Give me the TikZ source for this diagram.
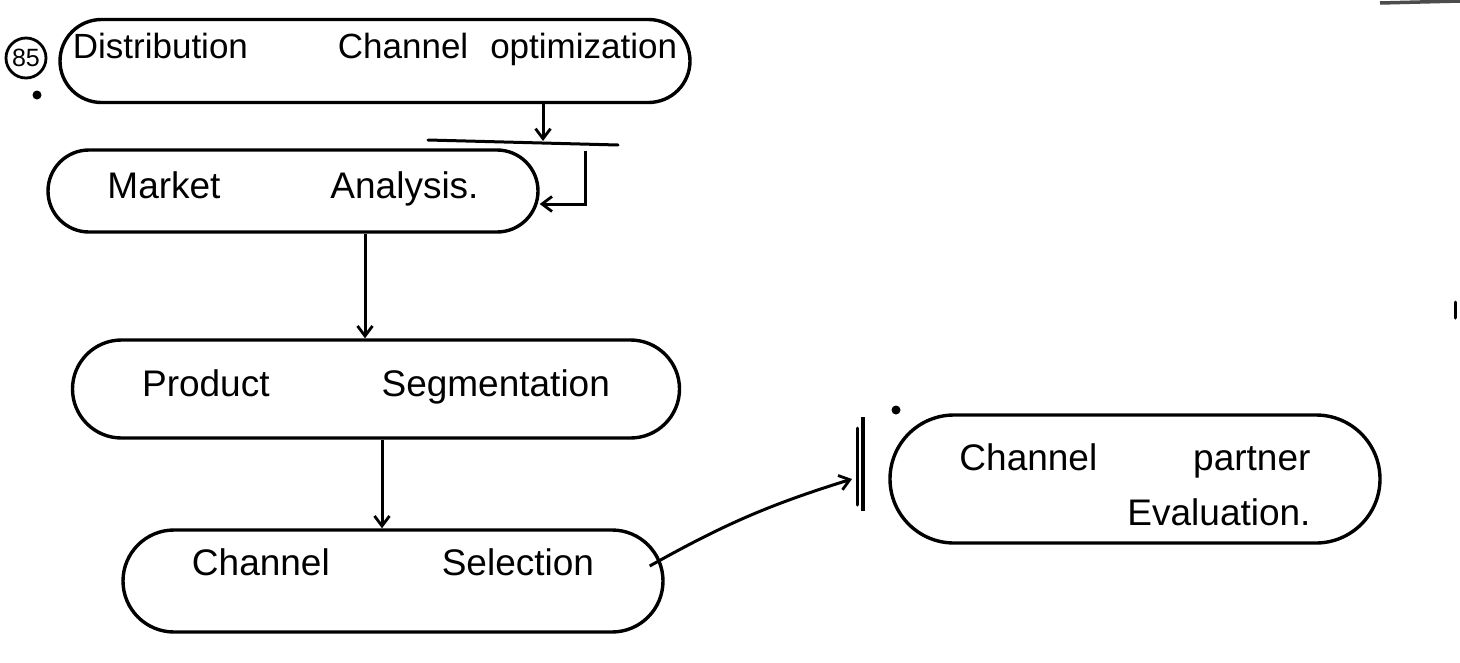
\documentclass[tikz,border=0pt]{standalone}
\usepackage{fontspec}
\setmainfont{Liberation Sans}
\usetikzlibrary{shapes.misc,arrows.meta,calc}
\newcommand\rbx[2]{\raisebox{#1}[0pt][0pt]{#2}}
\begin{document}
\begin{tikzpicture}[x=1pt,y=-1pt,
  box/.style={draw,rounded rectangle,
    line width=3.4pt,inner sep=0pt,
    font=\fontsize{37}{55}\selectfont},
  arr/.style={line width=3pt,-{Straight Barb[length=10pt,width=15pt,line width=2.8pt]}},
  ln/.style={line width=3pt,line cap=round},
  blot/.style={fill=black,inner sep=0pt,minimum size=9pt,circle}]
\useasboundingbox[fill=white] (0,0) rectangle (1460,662);

% question number
\node[draw,circle,line width=2.8pt,inner sep=0pt,minimum size=40pt,
  font=\fontsize{25}{28}\selectfont] (q) at (26,58) {85};
\node[blot] (d1) at (37,95) {};
\node[blot] (d2) at (896,410) {};

% boxes
\node[box,minimum width=630pt,minimum height=83pt,font=\fontsize{35}{40}\selectfont] (n1) at (375,61)
  {\rbx{3pt}{Distribution\hspace{90pt}Channel\hspace{22pt}optimization}};
\node[box,minimum width=490pt,minimum height=82pt] (n2) at (293,191)
  {\rbx{-7pt}{Market\hspace{110pt}Analysis.}};
\node[box,minimum width=607pt,minimum height=98pt] (n3) at (376,389)
  {\rbx{-7pt}{Product\hspace{112pt}Segmentation}};
\node[box,minimum width=540pt,minimum height=102pt] (n4) at (393,581)
  {\rbx{6pt}{Channel\hspace{112pt}Selection}};
\node[box,minimum width=490pt,minimum height=128pt] (n5) at (1135,479)
  {\rbx{9pt}{\begin{tabular}[t]{@{}r@{}}Channel\hspace{96pt}partner\\Evaluation.\end{tabular}}};

% connectors
\coordinate (b1) at (543,141);
\coordinate (bl) at (428,140);
\coordinate (br) at (618,145);
\draw[arr] (b1 |- n1.south) -- (b1);
\draw[ln] (bl) -- (br);
\coordinate (e1) at (585,151);
\coordinate (e2) at (585,204);
\draw[arr] (e1) -- (e2) -- (e2 -| n2.east);

\draw[arr] ([xshift=72pt]n2.south) -- ([xshift=72pt]n2.south |- n3.north);
\draw[arr] ([xshift=6pt]n3.south) -- ([xshift=6pt]n3.south |- n4.north);

\coordinate (sb1) at (863,417);
\coordinate (sb2) at (863,511);
\coordinate (sc1) at (857,428);
\coordinate (sc2) at (857,505);
\coordinate (tb) at (852,479);
\draw[line width=4.5pt] (sb1) -- (sb2);
\draw[ln] (sc1) -- (sc2);
\draw[arr] ([xshift=-15pt,yshift=15pt]n4.east) to[bend left=6] (tb);

% stray pen marks
\coordinate (m1) at (1455,302);
\coordinate (m2) at (1455,318);
\draw[ln] (m1) -- (m2);
\coordinate (t1) at (1380,3);
\coordinate (t2) at (1460,1);
\draw[line width=3.5pt,black!70] (t1) -- (t2);
\end{tikzpicture}
\end{document}
